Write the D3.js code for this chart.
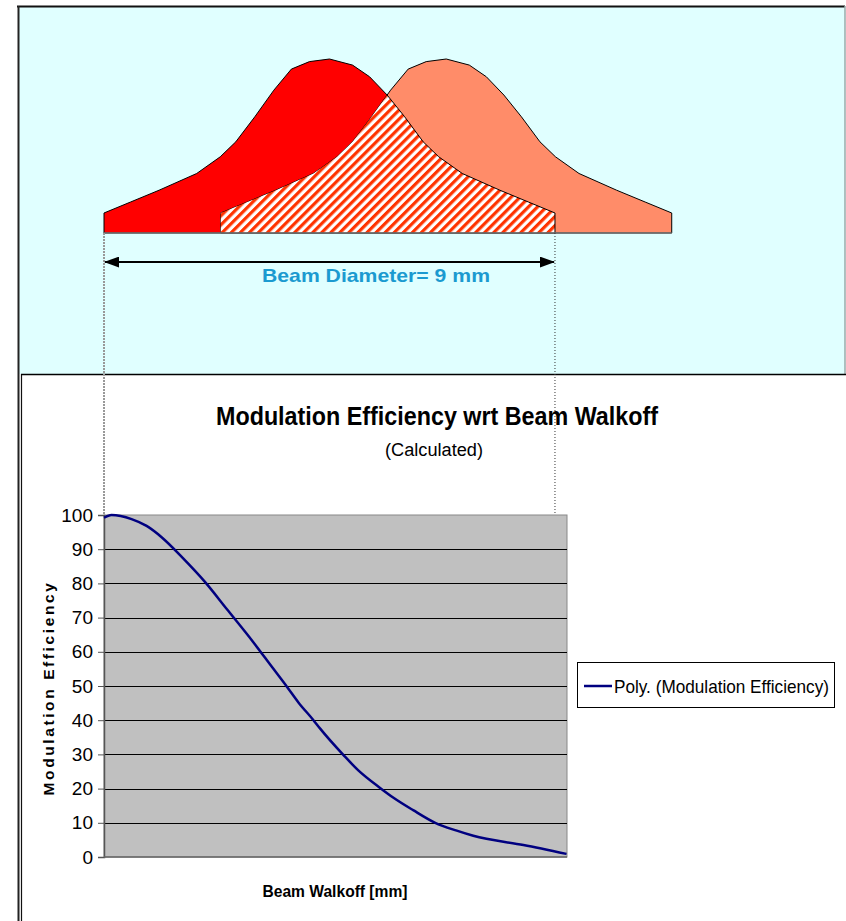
<!DOCTYPE html>
<html>
<head>
<meta charset="utf-8">
<script src="https://cdn.jsdelivr.net/npm/d3@7"></script>
<style>
  body { margin: 0; background: #fff; }
  svg { display: block; font-family: Arial, "Liberation Sans", sans-serif; }
</style>
</head>
<body>
<svg id="chart" width="846" height="921"></svg>
<script>
// Modulation efficiency vs beam walkoff
const walkoffMm = [0, 0.15, 0.55, 0.85, 1.15, 1.58, 2.01, 2.45, 2.98, 3.35, 3.65,
                   3.88, 4.18, 4.31, 4.78, 5.07, 5.51, 5.77, 6.17, 6.61, 7.04, 7.37, 8.37, 9.23];
const efficiency = [99.2, 100, 98.8, 96.8, 93.5, 87.3, 80.5, 72.5, 62.8, 55.6, 49.8,
                    45.2, 40.0, 37.6, 29.8, 25.4, 20.2, 17.4, 13.7, 10.0, 7.7, 6.2, 3.5, 0.9];
const yTicks = [0, 10, 20, 30, 40, 50, 60, 70, 80, 90, 100];
const xMaxMm = 9.24;

// Beam intensity profile for the sketch on top (position in mm, relative level %)
const beamPosMm = [0, 0, 0.53, 1.10, 1.85, 2.32, 2.63, 3.01, 3.39, 3.74, 4.10, 4.50, 4.96, 5.30,
                   5.65, 6.00, 6.37, 6.68, 7.15, 7.90, 8.47, 9.00, 9.00];
const beamLevel = [0, 11.5, 17.8, 24.6, 34.2, 43.8, 52.4, 66.8, 82.1, 94.2, 98.5, 100, 96.5, 89.8,
                   79.3, 66.8, 52.4, 43.8, 34.2, 24.6, 17.8, 11.5, 0];
const beamShiftMm = 2.33;
const beamDiameterMm = 9;

const svg = d3.select('#chart');

// Scales shared by the sketch and the plot
const x = d3.scaleLinear().domain([0, xMaxMm]).range([104, 567]);
const y = d3.scaleLinear().domain([0, 100]).range([857, 515]);
const yBeam = d3.scaleLinear().domain([0, 100]).range([233, 59]);

// ---- frames ----
svg.append('rect').attr('x', 18).attr('y', 6).attr('width', 827).attr('height', 368)
   .attr('fill', '#e0ffff');
svg.append('line').attr('x1', 17).attr('x2', 845).attr('y1', 6.5).attr('y2', 6.5)
   .attr('stroke', '#111').attr('stroke-width', 2);
svg.append('line').attr('x1', 845).attr('x2', 845).attr('y1', 6).attr('y2', 374)
   .attr('stroke', '#9aa').attr('stroke-width', 1.5);
svg.append('line').attr('x1', 18.5).attr('x2', 18.5).attr('y1', 6).attr('y2', 921)
   .attr('stroke', '#222').attr('stroke-width', 2);
svg.append('line').attr('x1', 21.5).attr('x2', 21.5).attr('y1', 374).attr('y2', 921)
   .attr('stroke', '#111').attr('stroke-width', 1.2);
svg.append('line').attr('x1', 21).attr('x2', 846).attr('y1', 374.5).attr('y2', 374.5)
   .attr('stroke', '#000').attr('stroke-width', 1.5);

// ---- beam sketch ----
const defs = svg.append('defs');
const pat = defs.append('pattern').attr('id', 'hatch')
   .attr('patternUnits', 'userSpaceOnUse').attr('width', 6.4).attr('height', 6.4)
   .attr('patternTransform', 'rotate(45)');
pat.append('rect').attr('width', 6.4).attr('height', 6.4).attr('fill', '#fff');
pat.append('rect').attr('width', 3.2).attr('height', 6.4).attr('fill', '#ff3300');

const beamLine = shift => d3.line()
   .x((d, i) => x(beamPosMm[i] + shift))
   .y(d => yBeam(d))(beamLevel) + 'Z';

defs.append('clipPath').attr('id', 'redClip')
   .append('path').attr('d', beamLine(0));

svg.append('path').attr('d', beamLine(0)).attr('fill', '#ff0000');
svg.append('path').attr('d', beamLine(beamShiftMm)).attr('fill', '#ff8c69')
   .attr('stroke', '#000').attr('stroke-width', 1);
svg.append('path').attr('d', beamLine(beamShiftMm)).attr('fill', 'url(#hatch)')
   .attr('clip-path', 'url(#redClip)');
svg.append('path').attr('d', beamLine(0)).attr('fill', 'none')
   .attr('stroke', '#000').attr('stroke-width', 1);
svg.append('line').attr('x1', x(0)).attr('x2', x(beamShiftMm + 9)).attr('y1', 233).attr('y2', 233)
   .attr('stroke', '#777').attr('stroke-width', 1.5);

// guide lines down to the plot
svg.append('line').attr('x1', x(0)).attr('x2', x(0)).attr('y1', 233).attr('y2', 515)
   .attr('stroke', '#999').attr('stroke-width', 2).attr('stroke-dasharray', '2,1');
svg.append('line').attr('x1', x(beamDiameterMm)).attr('x2', x(beamDiameterMm)).attr('y1', 233).attr('y2', 515)
   .attr('stroke', '#333').attr('stroke-width', 1).attr('stroke-dasharray', '1,2');

// double arrow for the beam diameter
['arrowL', 'arrowR'].forEach(id => {
  defs.append('marker').attr('id', id)
     .attr('viewBox', '0 0 14 10').attr('refX', 13).attr('refY', 5)
     .attr('markerWidth', 7).attr('markerHeight', 5).attr('orient', 'auto-start-reverse')
     .attr('markerUnits', 'strokeWidth')
     .append('path').attr('d', 'M0,0 L14,5 L0,10 Z').attr('fill', '#000');
});
svg.append('line').attr('x1', x(0) + 1).attr('x2', x(beamDiameterMm) - 1).attr('y1', 262).attr('y2', 262)
   .attr('stroke', '#000').attr('stroke-width', 2.2)
   .attr('marker-start', 'url(#arrowL)').attr('marker-end', 'url(#arrowR)');
svg.append('text').attr('x', 376).attr('y', 282).attr('text-anchor', 'middle')
   .attr('font-size', 19).attr('font-weight', 'bold').attr('fill', '#1b9ad0')
   .attr('textLength', 228).attr('lengthAdjust', 'spacingAndGlyphs')
   .text('Beam Diameter= 9 mm');

// ---- chart ----
svg.append('text').attr('x', 437).attr('y', 425).attr('text-anchor', 'middle')
   .attr('font-size', 25.5).attr('font-weight', 'bold')
   .attr('textLength', 442).attr('lengthAdjust', 'spacingAndGlyphs')
   .text('Modulation Efficiency wrt Beam Walkoff');
svg.append('text').attr('x', 434).attr('y', 456).attr('text-anchor', 'middle')
   .attr('font-size', 18)
   .attr('textLength', 98).attr('lengthAdjust', 'spacingAndGlyphs')
   .text('(Calculated)');

const plot = svg.append('g');
plot.append('rect').attr('x', x(0)).attr('y', y(100)).attr('width', x(xMaxMm) - x(0)).attr('height', y(0) - y(100))
   .attr('fill', '#c0c0c0').attr('stroke', '#888').attr('stroke-width', 1);

plot.selectAll('line.grid').data(yTicks.filter(t => t > 0 && t < 100)).enter()
   .append('line').attr('class', 'grid')
   .attr('x1', x(0)).attr('x2', x(xMaxMm))
   .attr('y1', d => Math.round(y(d)) + 0.5).attr('y2', d => Math.round(y(d)) + 0.5)
   .attr('stroke', '#000').attr('stroke-width', 1);

const yAxis = d3.axisLeft(y).tickValues(yTicks).tickSize(6).tickPadding(5);
const gy = plot.append('g').attr('transform', `translate(${x(0)},0)`).call(yAxis);
gy.select('.domain').attr('stroke', '#555').attr('stroke-width', 1.5);
gy.selectAll('.tick line').attr('stroke', '#555');
gy.selectAll('.tick text').attr('font-size', 19).attr('fill', '#000')
   .attr('font-family', 'Arial, "Liberation Sans", sans-serif');
plot.append('line').attr('x1', x(0)).attr('x2', x(xMaxMm)).attr('y1', y(0)).attr('y2', y(0))
   .attr('stroke', '#666').attr('stroke-width', 1.5);

const line = d3.line().x((d, i) => x(walkoffMm[i])).y(d => y(d)).curve(d3.curveMonotoneX);
plot.append('path').attr('d', line(efficiency)).attr('fill', 'none')
   .attr('stroke', '#000080').attr('stroke-width', 2.5);

svg.append('text').attr('transform', 'translate(54,688) rotate(-90)').attr('text-anchor', 'middle')
   .attr('font-size', 15.5).attr('font-weight', 'bold').attr('letter-spacing', 2.6)
   .text('Modulation Efficiency');
svg.append('text').attr('x', 335).attr('y', 897).attr('text-anchor', 'middle')
   .attr('font-size', 16).attr('font-weight', 'bold')
   .attr('textLength', 145).attr('lengthAdjust', 'spacingAndGlyphs')
   .text('Beam Walkoff [mm]');

// legend
const lg = svg.append('g');
lg.append('rect').attr('x', 577.5).attr('y', 662.5).attr('width', 257).attr('height', 45)
   .attr('fill', '#fff').attr('stroke', '#000').attr('stroke-width', 1);
lg.append('line').attr('x1', 584).attr('x2', 612).attr('y1', 686).attr('y2', 686)
   .attr('stroke', '#000080').attr('stroke-width', 2.5);
lg.append('text').attr('x', 614).attr('y', 692.5).attr('font-size', 18.5)
   .attr('textLength', 215).attr('lengthAdjust', 'spacingAndGlyphs')
   .text('Poly. (Modulation Efficiency)');
</script>
</body>
</html>
